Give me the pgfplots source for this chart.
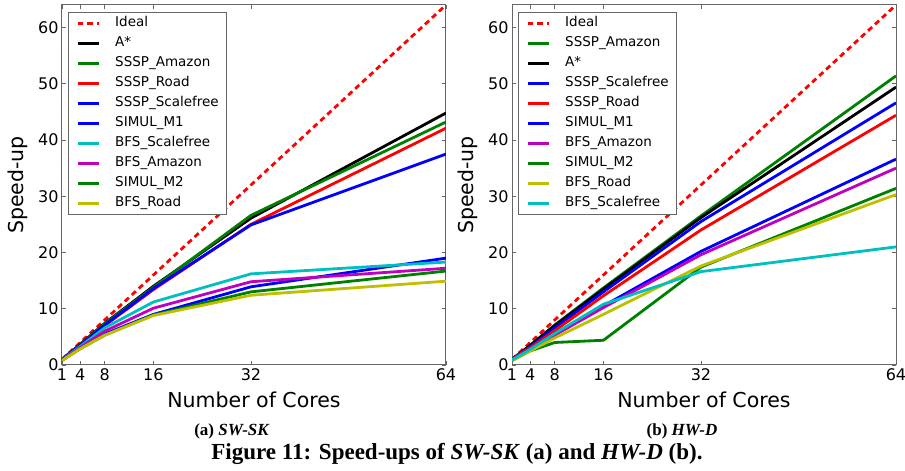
\documentclass[border=0pt]{standalone}
\usepackage{fontspec}
\setmainfont{DejaVu Sans}
\newfontfamily\capfont{Liberation Serif}
\usepackage{pgfplots}
\pgfplotsset{compat=1.18}

\definecolor{mgreen}{rgb}{0,0.5,0}
\definecolor{mcyan}{rgb}{0,0.75,0.75}
\definecolor{mmag}{rgb}{0.75,0,0.75}
\definecolor{myel}{rgb}{0.75,0.75,0}
\definecolor{frame}{gray}{0.4}

\pgfplotsset{
  speedup/.style={
    scale only axis, width=384pt, height=360pt, anchor=south west,
    xmin=1, xmax=64, ymin=0, ymax=64,
    xtick={1,4,8,16,32,64}, ytick={0,10,...,60},
    tick align=inside, tick pos=both, major tick length=4pt,
    axis line style={frame, line width=1pt},
    every tick/.style={frame, line width=0.8pt},
    /pgf/number format/assume math mode=true,
    ticklabel style={font=\fontsize{16}{16}\selectfont},
    xlabel={Number of Cores}, ylabel={Speed-up},
    label style={font=\fontsize{20.5}{21}\selectfont},
    x label style={at={(axis description cs:0.5,-0.097)}, anchor=center},
    y label style={at={(axis description cs:-0.115,0.5)}, anchor=center},
    every axis plot/.append style={line width=2.8pt, line join=round},
    legend cell align=left,
    legend image code/.code={\draw[##1] (0pt,0pt) -- (21pt,0pt);},
    legend style={at={(0,1)}, anchor=north west, xshift=6pt, yshift=-7pt,
      draw=frame, line width=0.8pt, fill=white,
      inner xsep=8pt, inner ysep=5pt, row sep=8pt, column sep=15pt,
      nodes={inner sep=0pt, text height=9pt, text depth=3pt,
        font=\fontsize{13.5}{14}\selectfont}},
  },
  ideal/.style={red, dash pattern=on 5.5pt off 4pt, line cap=butt},
}

\begin{document}
\begin{tikzpicture}
\useasboundingbox (0,0) rectangle (905pt,471pt);

% (a) SW-SK
\begin{axis}[speedup, at={(62pt,106pt)}]
\addplot[ideal] coordinates {(1,1) (4,4) (8,8) (16,16) (32,32) (64,64)};
\addlegendentry{Ideal}
\addplot[black] coordinates {(1,1) (4,3.7) (8,7.4) (16,14.0) (32,26.1) (64,44.8)};
\addlegendentry{A*}
\addplot[mgreen] coordinates {(1,1) (4,3.6) (8,7.3) (16,13.8) (32,26.6) (64,43.2)};
\addlegendentry{SSSP\_Amazon}
\addplot[red] coordinates {(1,1) (4,3.5) (8,7.0) (16,13.4) (32,25.0) (64,42.1)};
\addlegendentry{SSSP\_Road}
\addplot[blue] coordinates {(1,1) (4,3.5) (8,7.1) (16,13.6) (32,24.9) (64,37.5)};
\addlegendentry{SSSP\_Scalefree}
\addplot[blue] coordinates {(1,0.9) (4,3.0) (8,5.5) (16,9.0) (32,13.9) (64,19.0)};
\addlegendentry{SIMUL\_M1}
\addplot[mcyan] coordinates {(1,0.9) (4,3.3) (8,6.6) (16,11.2) (32,16.2) (64,18.3)};
\addlegendentry{BFS\_Scalefree}
\addplot[mmag] coordinates {(1,0.9) (4,3.1) (8,6.0) (16,10.1) (32,14.8) (64,17.2)};
\addlegendentry{BFS\_Amazon}
\addplot[mgreen] coordinates {(1,0.8) (4,2.9) (8,5.3) (16,8.9) (32,13.0) (64,16.7)};
\addlegendentry{SIMUL\_M2}
\addplot[myel] coordinates {(1,0.8) (4,2.9) (8,5.3) (16,8.8) (32,12.4) (64,14.9)};
\addlegendentry{BFS\_Road}
\end{axis}

% (b) HW-D
\begin{axis}[speedup, at={(512pt,106pt)}]
\addplot[ideal] coordinates {(1,1) (4,4) (8,8) (16,16) (32,32) (64,64)};
\addlegendentry{Ideal}
\addplot[mgreen] coordinates {(1,1) (4,3.5) (8,7.1) (16,13.7) (32,26.5) (64,51.4)};
\addlegendentry{SSSP\_Amazon}
\addplot[black] coordinates {(1,1) (4,3.5) (8,7.0) (16,13.5) (32,26.2) (64,49.4)};
\addlegendentry{A*}
\addplot[blue] coordinates {(1,1) (4,3.3) (8,6.6) (16,13.0) (32,25.5) (64,46.6)};
\addlegendentry{SSSP\_Scalefree}
\addplot[red] coordinates {(1,1) (4,3.1) (8,6.1) (16,12.3) (32,24.0) (64,44.4)};
\addlegendentry{SSSP\_Road}
\addplot[blue] coordinates {(1,0.9) (4,2.8) (8,5.6) (16,10.5) (32,20.2) (64,36.6)};
\addlegendentry{SIMUL\_M1}
\addplot[mmag] coordinates {(1,0.9) (4,2.7) (8,5.3) (16,10.2) (32,19.6) (64,35.0)};
\addlegendentry{BFS\_Amazon}
\addplot[mgreen] coordinates {(1,0.8) (4,2.5) (8,4.0) (16,4.4) (32,17.4) (64,31.4)};
\addlegendentry{SIMUL\_M2}
\addplot[myel] coordinates {(1,0.8) (4,2.5) (8,4.8) (16,9.0) (32,17.6) (64,30.3)};
\addlegendentry{BFS\_Road}
\addplot[mcyan] coordinates {(1,0.9) (4,2.8) (8,5.6) (16,10.8) (32,16.6) (64,21.0)};
\addlegendentry{BFS\_Scalefree}
\end{axis}

\node[font=\capfont\fontsize{17}{17}\selectfont\bfseries] at (232pt,40pt) {(a) \textit{SW-SK}};
\node[font=\capfont\fontsize{17}{17}\selectfont\bfseries] at (682pt,40pt) {(b) \textit{HW-D}};
\node[font=\capfont\fontsize{23}{23}\selectfont\bfseries] at (457pt,17pt)
  {Figure 11: Speed-ups of \textit{SW-SK} (a) and \textit{HW-D} (b).};
\end{tikzpicture}
\end{document}
